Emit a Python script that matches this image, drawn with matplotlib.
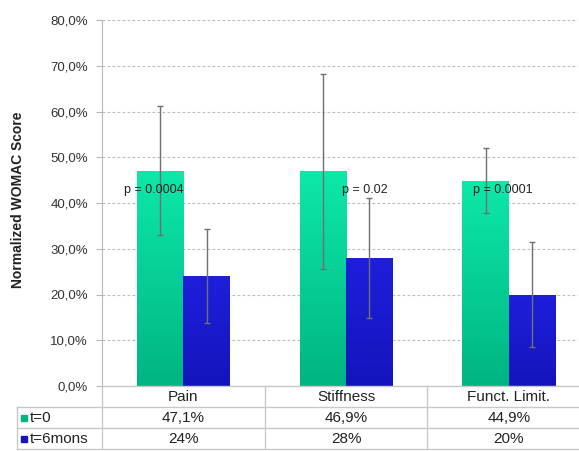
import numpy as np
import matplotlib.pyplot as plt
import matplotlib.transforms as mtrans
from matplotlib.lines import Line2D
from matplotlib.patches import Rectangle

plt.rcParams['font.family'] = ['Liberation Sans', 'DejaVu Sans']

categories = ["Pain", "Stiffness", "Funct. Limit."]
t0 = [47.1, 46.9, 44.9]
t6 = [24, 28, 20]
t0_err = [14.2, 21.4, 7.1]
t6_err = [10.3, 13.2, 11.5]
pvals = ["p = 0.0004", "p = 0.02", "p = 0.0001"]
series = ["t=0", "t=6mons"]

W, H = 579, 451
fig = plt.figure(figsize=(W / 100, H / 100), dpi=100)
ax = fig.add_axes([102 / W, 1 - 386 / H, 476 / W, 366 / H])

x = np.arange(len(categories))
bw = 0.285
green_top, green_bot = np.array([0.05, 0.91, 0.66]), np.array([0.0, 0.71, 0.51])
blue_top, blue_bot = np.array([0.12, 0.12, 0.86]), np.array([0.08, 0.08, 0.74])

def grad_bars(xs, hs, ctop, cbot):
    bars = ax.bar(xs, hs, bw, color=cbot, zorder=2)
    g = np.linspace(1, 0, 64)[:, None, None]
    img = cbot + (ctop - cbot) * g
    for b in bars:
        x0, w_, h_ = b.get_x(), b.get_width(), b.get_height()
        im = ax.imshow(img, extent=(x0, x0 + w_, 0, h_), aspect='auto', zorder=2.1)
        im.set_clip_path(b)
    return bars

grad_bars(x - bw / 2, t0, green_top, green_bot)
grad_bars(x + bw / 2, t6, blue_top, blue_bot)

ax.errorbar(x - bw / 2, t0, yerr=t0_err, fmt='none', ecolor='#707070', elinewidth=1,
            capsize=2.5, capthick=1, zorder=3)
ax.errorbar(x + bw / 2, t6, yerr=t6_err, fmt='none', ecolor='#707070', elinewidth=1,
            capsize=2.5, capthick=1, zorder=3)

for xp, p in zip([-0.184, 1.113, 1.963], pvals):
    ax.text(xp, 42.8, p, ha='center', va='center', fontsize=9, color='#222222', zorder=4)

ax.set_xlim(-0.5, 2.426)
ax.set_ylim(0, 80)
ax.set_yticks(np.arange(0, 81, 10))
ax.set_yticklabels([f"{v:.1f}%".replace('.', ',') for v in np.arange(0, 81, 10)],
                   fontsize=9.5, color='#333333')
ax.set_xticks([])
ax.yaxis.grid(True, linestyle=(0, (2.5, 2)), color='#bdbdbd', linewidth=0.8)
ax.set_axisbelow(True)
for s in ['top', 'right', 'bottom']:
    ax.spines[s].set_visible(False)
ax.spines['left'].set_color('#b8b8b8')
ax.tick_params(axis='y', length=4, color='#b8b8b8', pad=6)

fig.text(18 / W, 1 - 200 / H, "Normalized WOMAC Score", rotation=90, fontsize=10,
         fontweight='bold', ha='center', va='center', color='#222222')

# data table under the plot
tr = mtrans.blended_transform_factory(ax.transData, fig.transFigure)
lc = '#c8c8c8'

def fy(py):
    return 1 - py / H

def fx(px):
    return px / W

for yy in [407, 428, 449]:
    fig.add_artist(Line2D([fx(17), fx(579)], [fy(yy), fy(yy)], color=lc, lw=1))
fig.add_artist(Line2D([fx(102), fx(579)], [fy(386), fy(386)], color=lc, lw=1))
fig.add_artist(Line2D([fx(17), fx(17)], [fy(407), fy(449)], color=lc, lw=1))
fig.add_artist(Line2D([fx(102), fx(102)], [fy(386), fy(449)], color=lc, lw=1))
for b in x[:-1] + 0.5:
    fig.add_artist(Line2D([b, b], [fy(386), fy(449)], color=lc, lw=1, transform=tr))

t0_lbl = [f"{v:.1f}%".replace('.', ',') for v in t0]
t6_lbl = [f"{v:.0f}%" for v in t6]
for i, c in enumerate(categories):
    fig.text(x[i], fy(397), c, transform=tr, ha='center', va='center', fontsize=11, color='#222222')
    fig.text(x[i], fy(418), t0_lbl[i], transform=tr, ha='center', va='center', fontsize=11, color='#222222')
    fig.text(x[i], fy(439), t6_lbl[i], transform=tr, ha='center', va='center', fontsize=11, color='#222222')

for yy, lab, col in zip([418, 439], series, [green_bot, blue_bot]):
    fig.add_artist(Rectangle((fx(21), fy(yy + 3)), 6 / W, 6 / H, transform=fig.transFigure,
                             color=col))
    fig.text(fx(30), fy(yy), lab, ha='left', va='center', fontsize=11, color='#222222')

fig.savefig("out.png", dpi=100)
